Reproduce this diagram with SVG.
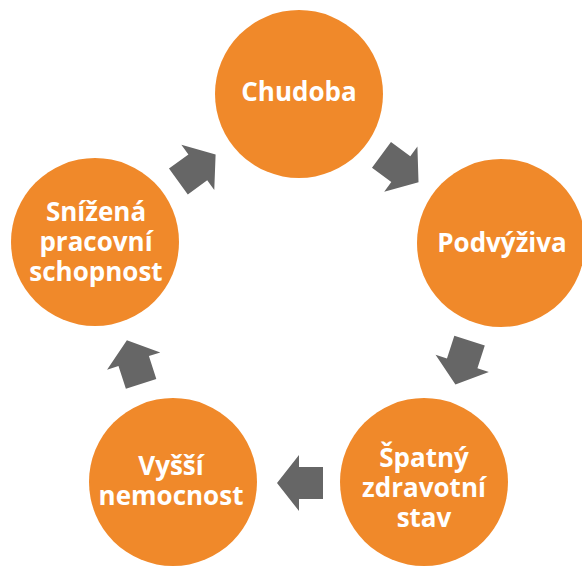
<svg xmlns="http://www.w3.org/2000/svg" xmlns:xlink="http://www.w3.org/1999/xlink" width="582" height="566" viewBox="0 0 582 566">
  <style>
    .node circle { fill: #F0892A; }
    .node text { fill: #ffffff; font-family: "Open Sans", "Liberation Sans", sans-serif; font-weight: 700; font-size: 26px; text-anchor: middle; }
    .arrow { fill: #666666; }
  </style>
  <defs>
    <polygon id="arr" points="23,0 1,-28 1,-16 -23,-16 -23,16 1,16 1,28"/>
  </defs>
  <rect width="582" height="566" fill="#ffffff"/>
  <g id="connectors" class="arrow">
    <use xlink:href="#arr" href="#arr" transform="translate(197,168) rotate(-36)"/>
    <use xlink:href="#arr" href="#arr" transform="translate(400,168.5) rotate(36.4)"/>
    <use xlink:href="#arr" href="#arr" transform="translate(462.5,362.5) rotate(107.9)"/>
    <use xlink:href="#arr" href="#arr" transform="translate(300,483) rotate(180)"/>
    <use xlink:href="#arr" href="#arr" transform="translate(134,362) rotate(-108)"/>
  </g>
  <g id="chudoba" class="node">
    <circle cx="299" cy="94" r="84"/>
    <text x="299" y="101">Chudoba</text>
  </g>
  <g id="podvyziva" class="node">
    <circle cx="501" cy="243" r="84"/>
    <text x="502" y="252">Podvýživa</text>
  </g>
  <g id="spatny" class="node">
    <circle cx="424" cy="482" r="84"/>
    <text x="424" y="467">Špatný</text>
    <text x="424" y="497">zdravotní</text>
    <text x="424" y="527">stav</text>
  </g>
  <g id="vyssi" class="node">
    <circle cx="173" cy="482" r="84"/>
    <text x="171" y="475">Vyšší</text>
    <text x="171" y="505">nemocnost</text>
  </g>
  <g id="snizena" class="node">
    <circle cx="95" cy="242" r="84"/>
    <text x="96" y="221">Snížená</text>
    <text x="96" y="251">pracovní</text>
    <text x="96" y="281">schopnost</text>
  </g>
</svg>
